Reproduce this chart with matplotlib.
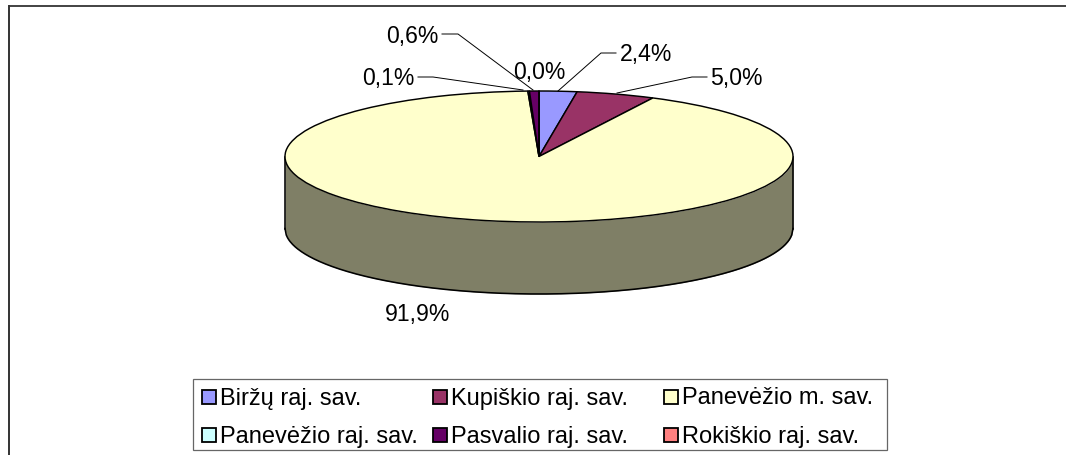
"""
plot.py - 3D looking pie of municipality shares
"""
import matplotlib
matplotlib.use("Agg")
import matplotlib.pyplot as plt
import numpy as np
from matplotlib.patches import Rectangle

plt.rcParams["font.family"] = ["Liberation Sans", "DejaVu Sans"]

W, H = 1066, 455
names = ["Biržų raj. sav.", "Kupiškio raj. sav.", "Panevėžio m. sav.",
         "Panevėžio raj. sav.", "Pasvalio raj. sav.", "Rokiškio raj. sav."]
shares = [2.4, 5.0, 91.9, 0.1, 0.6, 0.0]
colors = ["#9999FF", "#993366", "#FFFFCC", "#CCFFFF", "#660066", "#FF8080"]
WALL = "#7F7F66"

# pie geometry in pixels
CX, CY, RX, RY, DEPTH = 539, 156.5, 254, 65.5, 72

# label box centre, then the leader as elbow and end point (None = no leader)
label_pos = [(646, 55), (736, 79), (417.5, 315), (388, 79), (412, 36), (539, 72)]
leaders = [[(616, 53), (601, 53), (558, 91)],
           [(707, 77), (692, 77), (617, 93)],
           None,
           [(418, 77), (433, 77), (523, 90)],
           [(442, 34), (458, 34), (533, 90)],
           None]

fig = plt.figure(figsize=(W / 100, H / 100), dpi=100, facecolor="white")

# overlay in pixel coords for frame, labels and legend
ov = fig.add_axes([0, 0, 1, 1], zorder=2)
ov.set_xlim(0, W); ov.set_ylim(H, 0); ov.axis("off"); ov.patch.set_alpha(0)

# pie axes: one unit is RX wide and RY tall, which squashes the circle
ax = fig.add_axes([0, 0, 1, 1], zorder=1)
ax.pie(shares, colors=colors, startangle=90, counterclock=False,
       wedgeprops=dict(edgecolor="black", linewidth=1.05))
ax.set_aspect("auto")
ax.set_xlim(-CX / RX, (W - CX) / RX)
ax.set_ylim((CY - H) / RY, CY / RY)

# side wall below the front rim
rim_x = np.linspace(-1, 1, 400)
rim_y = -np.sqrt(1 - rim_x**2)
drop = DEPTH / RY
ax.fill_between(rim_x, rim_y, rim_y - drop, color=WALL, zorder=0, linewidth=0)
ax.plot(rim_x, rim_y - drop, color="black", lw=1.15, zorder=0.5)
ax.plot([-1, -1], [0, -drop], color="black", lw=1.15, zorder=0.5)
ax.plot([1, 1], [0, -drop], color="black", lw=1.15, zorder=0.5)

# chart frame, only top and left show in the crop
ov.plot([8.5, W], [5.5, 5.5], color="#222222", lw=1.2, solid_capstyle="butt")
ov.plot([8.5, 8.5], [5, H], color="#333333", lw=1.4, solid_capstyle="butt")

for share, (x, y), leader in zip(shares, label_pos, leaders):
    ov.text(x, y, f"{share:.1f}%".replace(".", ","), fontsize=16.6,
            ha="center", va="center", color="black")
    if leader:
        ov.plot(*zip(*leader), color="black", lw=0.7)

# legend box, laid out by hand because columns are equal width
ov.add_patch(Rectangle((193, 379), 694, 71, fc="white", ec="#666666", lw=0.9))
col_x = [202, 433, 664]
row_y = [397, 435]
for i, (name, color) in enumerate(zip(names, colors)):
    x = col_x[i % 3]; y = row_y[i // 3]
    ov.add_patch(Rectangle((x, y - 7), 14, 14, fc=color, ec="black", lw=1.3))
    ov.text(x + 18, y + 1.5, name, fontsize=17, ha="left", va="center", color="black")

fig.savefig("out.png", dpi=100, facecolor="white")
